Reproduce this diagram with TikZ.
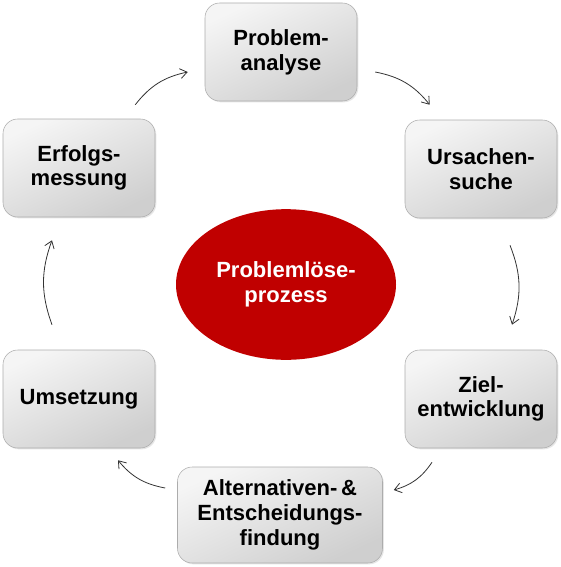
\documentclass[tikz,border=0pt]{standalone}
\usepackage{fontspec}
\setmainfont{Liberation Sans}
\usetikzlibrary{
   arrows.meta,
   calc,
   positioning,
   shapes.geometric,
   shadows
}

\definecolor{prozessrot}{HTML}{C00000}

\begin{document}
\begin{tikzpicture}[
    x=0.75pt, y=-0.75pt,
    box/.style={rectangle, rounded corners=11pt, draw=gray!65, thin, top color=gray!8, bottom color=gray!38, shading angle=25, drop shadow={opacity=0.2, shadow xshift=1pt, shadow yshift=-1pt}, minimum width=114pt, minimum height=73.5pt, align=center, font=\fontsize{16.5}{18.5}\selectfont\bfseries},
    arrow/.style={-{Straight Barb[length=1.8mm, width=2.6mm]}, black!80, semithick, bend left=20}
]
\useasboundingbox (0,0) rectangle (560,567);

\node[ellipse, fill=prozessrot, minimum width=165pt, minimum height=113pt, align=center, text=white, font=\fontsize{16.5}{18.5}\selectfont\bfseries] (P) at (286,284.5) {Problemlöse-\\prozess};

\node[box] (analyse) at (281,52) {Problem-\\analyse};
\node[box] (ursache) at (481,169) {Ursachen-\\suche};
\node[box] (ziel) at (481,399) {Ziel-\\entwicklung};
\node[box, minimum width=153.75pt, minimum height=72pt] (alternativen) at (280,515) {Alternativen-\,\&\\Entscheidungs-\\findung};
\node[box] (umsetzung) at (79,399) {Umsetzung};
\node[box] (erfolg) at (79,168) {Erfolgs-\\messung};

\draw[arrow] ([shift={(-20,-14)}]erfolg.north east) to ([shift={(-17,20)}]analyse.west);
\draw[arrow] ([shift={(18,20)}]analyse.east) to ([shift={(25,-15)}]ursache.north west);
\draw[arrow] ([shift={(29,27)}]ursache.south) to ([shift={(31,-25)}]ziel.north);
\draw[arrow] ([shift={(-49,14)}]ziel.south) to ([shift={(11,-25)}]alternativen.east);
\draw[arrow] ([shift={(-12,-27)}]alternativen.west) to ([shift={(39,12)}]umsetzung.south);
\draw[arrow] ([shift={(-27,-25)}]umsetzung.north) to ([shift={(-27,23)}]erfolg.south);

\end{tikzpicture}
\end{document}
